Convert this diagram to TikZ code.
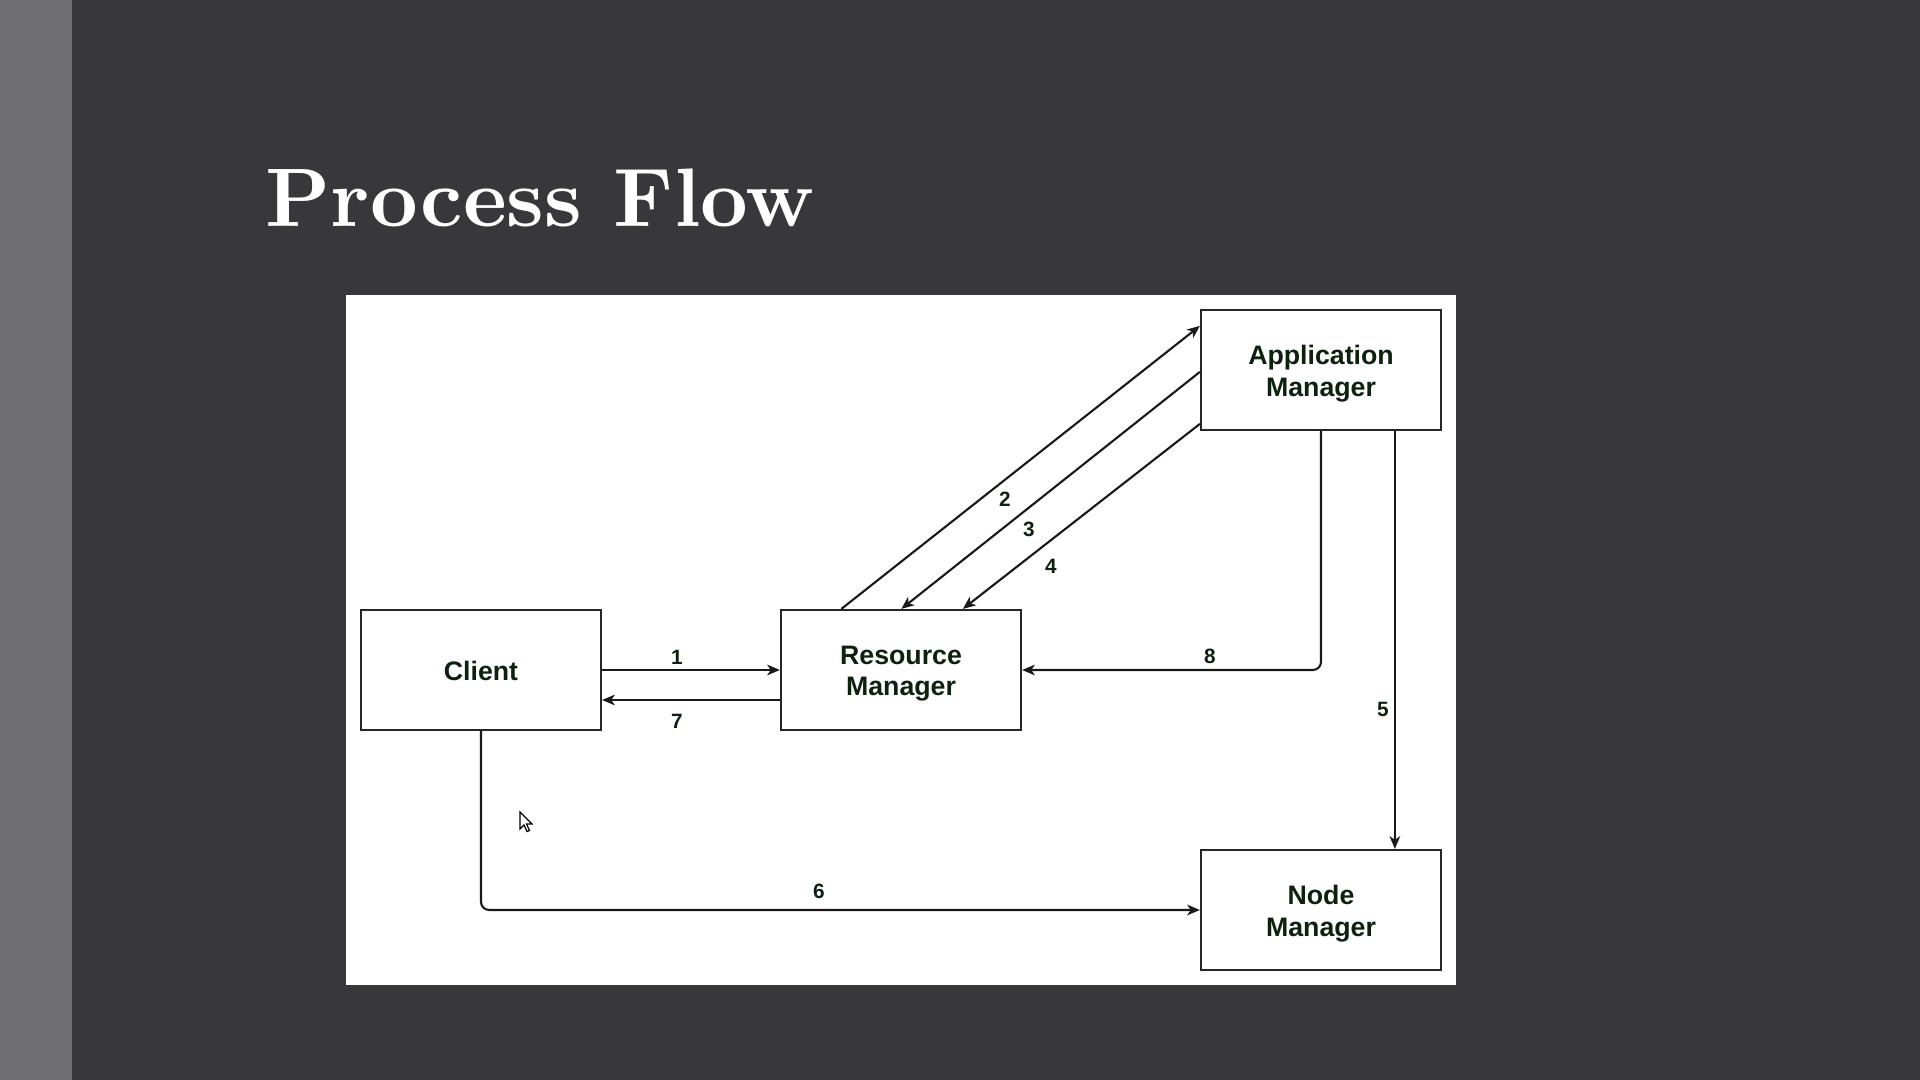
\documentclass[tikz,border=0pt]{standalone}
\usepackage{fontspec}
\newfontfamily\boxfont{Liberation Sans}
\newfontfamily\titlefont{lmroman10-bold.otf}
\usetikzlibrary{arrows.meta,calc}
\definecolor{slidebg}{RGB}{56,55,58}
\definecolor{sidebar}{RGB}{111,110,115}
\definecolor{labeltext}{RGB}{14,32,14}
\tikzset{
  procbox/.style={draw=black!85, line width=0.6pt, fill=white,
    minimum width=2.4cm, minimum height=1.2cm, inner sep=0pt},
  boxtext/.style={inner sep=0pt, align=center, text=labeltext,
    font=\boxfont\bfseries\fontsize{7.6pt}{8.9pt}\selectfont},
  flow/.style={draw=black!90, line width=0.6pt,
    -{Stealth[length=3.6pt,width=3pt,inset=1pt]}},
  steplabel/.style={inner sep=0pt, text=labeltext,
    font=\boxfont\bfseries\fontsize{5.9pt}{7pt}\selectfont}
}
\begin{document}
\begin{tikzpicture}[x=0.01cm, y=-0.01cm]
  % slide background and side bar
  \useasboundingbox (0,0) rectangle (1920,1080);
  \fill[slidebg] (0,0) rectangle (1920,1080);
  \fill[sidebar] (0,0) rectangle (72,1080);

  % slide title
  \node[anchor=base west, inner sep=0pt, text=white,
        font=\titlefont\fontsize{23.6pt}{28pt}\selectfont] (title) at (265,227) {Process Flow};

  % white diagram panel
  \fill[white] (346,295) rectangle (1456,985);

  % components
  \node[procbox, label={[boxtext, yshift=-0.3pt]center:Client}] (client) at (481,670) {};
  \node[procbox, label={[boxtext, yshift=-1pt]center:Resource\\Manager}] (rm) at (901,670) {};
  \node[procbox, label={[boxtext, yshift=-1pt]center:Application\\Manager}] (am) at (1321,370) {};
  \node[procbox, label={[boxtext, yshift=-1pt]center:Node\\Manager}] (nm) at (1321,910) {};

  % 1 and 7: client <-> resource manager
  \draw[flow] (client.east) -- (rm.west);
  \draw[flow] ($(rm.west)+(0,30)$) -- ($(client.east)+(0,30)$);

  % 2, 3, 4: resource manager <-> application manager
  \draw[flow] ($(rm.north west)+(61.5,0)$) -- ($(am.north west)+(0,17)$);
  \draw[flow] ($(am.north west)+(0,63)$) -- ($(rm.north west)+(121.5,0)$);
  \draw[flow] ($(am.north west)+(0,115)$) -- ($(rm.north west)+(183,0)$);

  % 5: application manager -> node manager
  \draw[flow] ($(am.south west)+(195,0)$) -- ($(nm.north west)+(195,0)$);

  % 8: application manager -> resource manager
  \draw[flow, rounded corners=2.3pt] (am.south) |- (rm.east);

  % 6: client -> node manager
  \draw[flow, rounded corners=2.3pt] (client.south) |- (nm.west);

  % step numbers
  \node[steplabel] (l1) at (677,657) {1};
  \node[steplabel] (l7) at (677,721) {7};
  \node[steplabel] (l2) at (1005,499) {2};
  \node[steplabel] (l3) at (1029,529) {3};
  \node[steplabel] (l4) at (1051,566) {4};
  \node[steplabel] (l8) at (1210,656) {8};
  \node[steplabel] (l5) at (1383,709) {5};
  \node[steplabel] (l6) at (819,891) {6};

  % mouse pointer
  \draw[black, line width=0.35pt, fill=white, line join=miter]
    (520,812) -- ++(0,17) -- ++(4,-4) -- ++(3,6.5) -- ++(2.5,-1)
    -- ++(-3,-6.5) -- ++(5.5,0) -- cycle;
\end{tikzpicture}
\end{document}
